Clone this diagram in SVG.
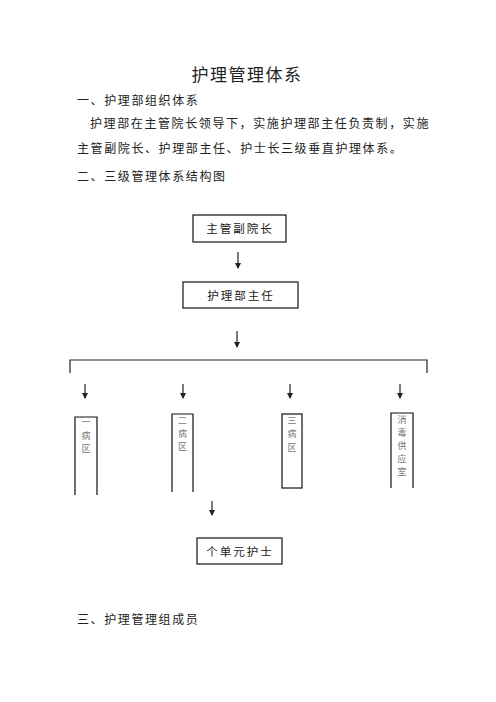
<svg xmlns="http://www.w3.org/2000/svg" width="496" height="702" viewBox="0 0 496 702">
<defs>
<marker id="ah" markerWidth="6" markerHeight="6" refX="5" refY="3" orient="auto" markerUnits="userSpaceOnUse" viewBox="0 0 6 6">
<path d="M0,0 L6,3 L0,6 Z" fill="#222"/>
</marker>
</defs>
<style>
text{font-family:"Noto Sans CJK SC","Noto Sans",sans-serif;fill:#222;}
.title{font-size:17px;letter-spacing:1.5px;}
.body{font-size:12px;letter-spacing:1.6px;}
.box{fill:none;stroke:#111;stroke-width:1.2;}
.lbl{font-size:11.5px;letter-spacing:2px;text-anchor:middle;}
.vl{font-size:9px;fill:#777;text-anchor:middle;}
.conn{stroke:#222;stroke-width:1.2;fill:none;}
</style>
<rect width="496" height="702" fill="#fff"/>
<text class="title" x="247" y="81" text-anchor="middle">护理管理体系</text>
<text class="body" x="77" y="105">一、护理部组织体系</text>
<text class="body" x="90" y="128" letter-spacing="1.7">护理部在主管院长领导下，实施护理部主任负责制，实施</text>
<text class="body" x="77" y="153" letter-spacing="0.8">主管副院长、护理部主任、护士长三级垂直护理体系。</text>
<text class="body" x="77" y="181">二、三级管理体系结构图</text>

<g id="connectors">
<line class="conn" x1="238" y1="252" x2="238" y2="268" marker-end="url(#ah)"/>
<line class="conn" x1="237" y1="331" x2="237" y2="347" marker-end="url(#ah)"/>
<path class="conn" d="M70,373 V360 H427 V373"/>
<line class="conn" x1="85" y1="384" x2="85" y2="398" marker-end="url(#ah)"/>
<line class="conn" x1="183" y1="384" x2="183" y2="398" marker-end="url(#ah)"/>
<line class="conn" x1="290" y1="384" x2="290" y2="398" marker-end="url(#ah)"/>
<line class="conn" x1="400" y1="384" x2="400" y2="398" marker-end="url(#ah)"/>
<line class="conn" x1="212" y1="501" x2="212" y2="515" marker-end="url(#ah)"/>
</g>

<g id="node-vp">
<rect class="box" x="193" y="215" width="93" height="27"/>
<text class="lbl" x="240" y="233">主管副院长</text>
</g>
<g id="node-director">
<rect class="box" x="183" y="282" width="115" height="26"/>
<text class="lbl" x="241" y="300">护理部主任</text>
</g>
<g id="node-ward1">
<path class="box" d="M75,495 V417 H97 V495"/>
<text class="vl" x="86" y="425">一</text>
<text class="vl" x="86" y="439">病</text>
<text class="vl" x="86" y="452">区</text>
</g>
<g id="node-ward2">
<path class="box" d="M172,492 V414 H193 V492"/>
<text class="vl" x="182.5" y="424">二</text>
<text class="vl" x="182.5" y="437">病</text>
<text class="vl" x="182.5" y="450">区</text>
</g>
<g id="node-ward3">
<rect class="box" x="282" y="414" width="20" height="74"/>
<text class="vl" x="292" y="424">三</text>
<text class="vl" x="292" y="437">病</text>
<text class="vl" x="292" y="451">区</text>
</g>
<g id="node-supply">
<path class="box" d="M391,488 V413 H413 V488"/>
<text class="vl" x="402" y="423">消</text>
<text class="vl" x="402" y="436">毒</text>
<text class="vl" x="402" y="449">供</text>
<text class="vl" x="402" y="462">应</text>
<text class="vl" x="402" y="475">室</text>
</g>
<g id="node-nurses">
<rect class="box" x="197" y="538" width="85" height="26"/>
<text class="lbl" x="240" y="556">个单元护士</text>
</g>
<text class="body" x="77" y="624">三、护理管理组成员</text>
</svg>
